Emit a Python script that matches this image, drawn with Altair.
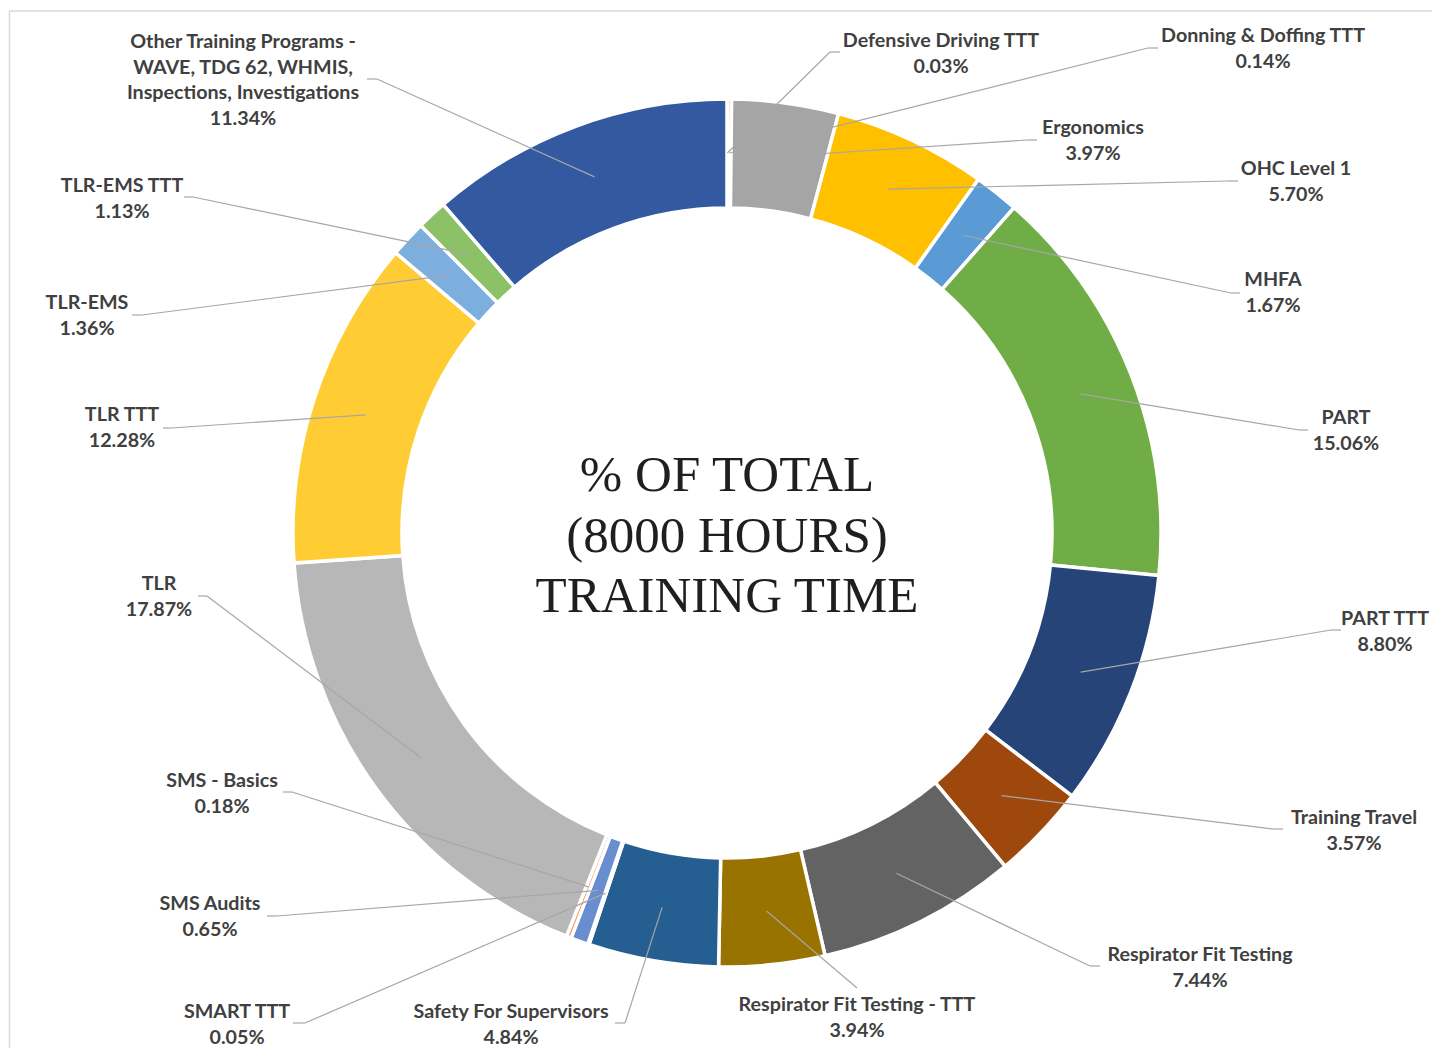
import altair as alt
import pandas as pd

# ---------------- data ----------------
categories = [
    "Defensive Driving TTT", "Donning & Doffing TTT", "Ergonomics", "OHC Level 1",
    "MHFA", "PART", "PART TTT", "Training Travel", "Respirator Fit Testing",
    "Respirator Fit Testing - TTT", "Safety For Supervisors", "SMART TTT",
    "SMS Audits", "SMS - Basics", "TLR", "TLR TTT", "TLR-EMS", "TLR-EMS TTT",
    "Other Training Programs - WAVE, TDG 62, WHMIS, Inspections, Investigations",
]
percent = [0.03, 0.14, 3.97, 5.70, 1.67, 15.06, 8.80, 3.57, 7.44, 3.94,
           4.84, 0.05, 0.65, 0.18, 17.87, 12.28, 1.36, 1.13, 11.34]
center_title = ["% OF TOTAL", "(8000 HOURS)", "TRAINING TIME"]

# ---------------- styles ----------------
colors = ["#4472C4", "#ED7D31", "#A5A5A5", "#FFC000", "#5B9BD5", "#70AD47",
          "#264478", "#9E480E", "#636363", "#997300", "#255E91", "#43682B",
          "#698ED0", "#F1975A", "#B7B7B7", "#FFCD33", "#7CAFDD", "#8CC168",
          "#335AA1"]
wrapped_names = {
    categories[-1]: "Other Training Programs -\nWAVE, TDG 62, WHMIS,\nInspections, Investigations",
}

# ---------------- layout (page pixels) ----------------
OFF = 8
W, H = 1424, 1040
CX, CY = 727 - OFF, 533 - OFF
R_IN, R_OUT, R_LEAD = 325, 434, 380
# text centre x, first text line centre y, leader start x, leader start y, elbow x
label_layout = [
    (941, 41, 840, 52, 830),
    (1263, 36, 1158, 48, 1148),
    (1093, 128, 1037, 140, 1027),
    (1296, 169, 1238, 181, 1228),
    (1273, 280, 1240, 293, 1231),
    (1346, 418, 1308, 430, 1299),
    (1385, 619, 1341, 630, 1331),
    (1354, 818, 1283, 829, 1273),
    (1200, 955, 1100, 966, 1090),
    (857, 1005, 857, 988, 857),
    (511, 1012, 615, 1023, 625),
    (237, 1012, 293, 1023, 305),
    (210, 904, 267, 916, 277),
    (222, 781, 283, 792, 292),
    (159, 584, 198, 596, 207),
    (122, 415, 163, 428, 171),
    (87, 303, 132, 315, 142),
    (122, 186, 184, 197, 193),
    (243, 42, 367, 79, 377),
]

df = pd.DataFrame({
    "name": categories,
    "value": percent,
    "idx": list(range(len(categories))),
    "wrapped": [wrapped_names.get(c, c) for c in categories],
    "tx": [l[0] - OFF for l in label_layout],
    "ty": [l[1] - OFF for l in label_layout],
    "sx": [l[2] - OFF for l in label_layout],
    "sy": [l[3] - OFF for l in label_layout],
    "ex": [l[4] - OFF for l in label_layout],
})

base = alt.Chart(df)

arcs = base.mark_arc(innerRadius=R_IN, outerRadius=R_OUT, stroke="white",
                     strokeWidth=3.5).encode(
    theta=alt.Theta("value:Q", stack=True),
    color=alt.Color("name:N", scale=alt.Scale(domain=categories, range=colors), legend=None),
    order=alt.Order("idx:Q"),
    x=alt.value(CX),
    y=alt.value(CY),
)

lead = base.transform_window(
    cum="sum(value)", sort=[alt.SortField("idx")]
).transform_joinaggregate(
    total="sum(value)"
).transform_calculate(
    ang="2*PI*(datum.cum - datum.value/2)/datum.total"
).transform_calculate(
    px=f"{CX} + {R_LEAD}*sin(datum.ang)",
    py=f"{CY} - {R_LEAD}*cos(datum.ang)",
)

lead_diag = lead.mark_rule(color="#A6A6A6", strokeWidth=1.2).encode(
    x=alt.X("ex:Q", scale=None, axis=None),
    y=alt.Y("sy:Q", scale=None, axis=None),
    x2="px:Q",
    y2="py:Q",
)
lead_horiz = base.mark_rule(color="#A6A6A6", strokeWidth=1.2).encode(
    x=alt.X("sx:Q", scale=None, axis=None),
    y=alt.Y("sy:Q", scale=None, axis=None),
    x2="ex:Q",
    y2="sy:Q",
)

labels = base.transform_calculate(
    lbl="datum.wrapped + '\\n' + format(datum.value / 100, '.2%')"
).mark_text(font="Lato", fontWeight="bold", fontSize=19.7, color="#404040",
            align="center", baseline="middle", lineBreak="\n",
            lineHeight=25.5).encode(
    x=alt.X("tx:Q", scale=None, axis=None),
    y=alt.Y("ty:Q", scale=None, axis=None),
    text="lbl:N",
)

center = alt.Chart(pd.DataFrame({"t": ["\n".join(center_title)]})).mark_text(
    font="Liberation Serif", fontSize=51, color="#1f1f1f", align="center",
    baseline="middle", lineBreak="\n", lineHeight=60.5,
).encode(x=alt.value(CX), y=alt.value(476 - OFF), text="t:N")

frame_data = pd.DataFrame({"a": [0]})
frame_top = alt.Chart(frame_data).mark_rule(color="#D9D9D9", strokeWidth=1.5).encode(
    x=alt.value(1), x2=alt.value(W), y=alt.value(3))
frame_left = alt.Chart(frame_data).mark_rule(color="#D9D9D9", strokeWidth=1.5).encode(
    x=alt.value(1.5), y=alt.value(3), y2=alt.value(H))

chart = alt.layer(
    frame_top, frame_left, arcs, lead_diag, lead_horiz, labels, center
).properties(
    width=W, height=H, padding=0, autosize=alt.AutoSizeParams(type="none"),
    background="white",
).configure_view(stroke=None)

chart.save("out.html", embed_options={"renderer": "svg", "actions": False})
